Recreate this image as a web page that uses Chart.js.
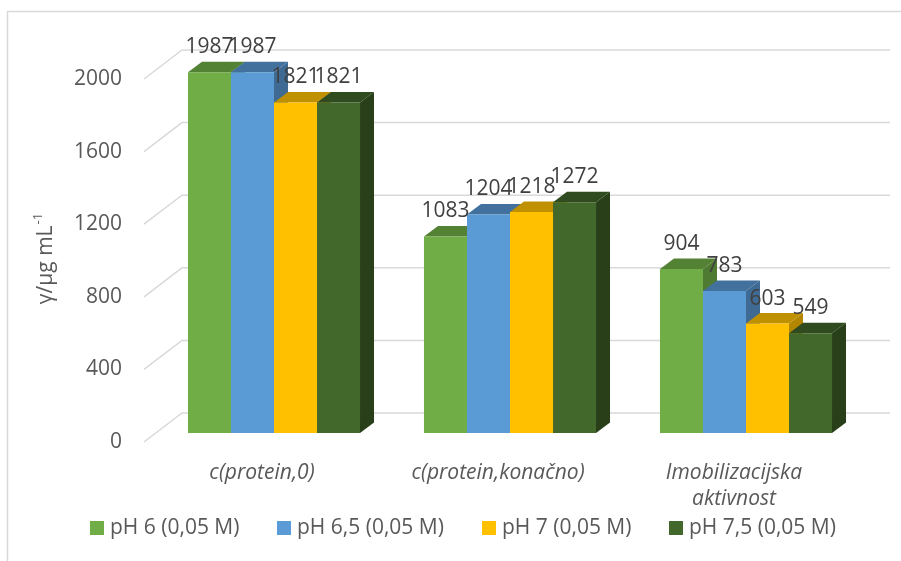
<!DOCTYPE html>
<html>
<head>
<meta charset="utf-8">
<script src="https://cdn.jsdelivr.net/npm/chart.js@4"></script>
<style>
  html, body { margin: 0; padding: 0; background: #fff; }
  #wrap { width: 901px; height: 561px; position: relative; }
</style>
</head>
<body>
<div id="wrap"><canvas id="proteinChart"></canvas></div>
<script>
// data
const categories = [["c(protein,0)"], ["c(protein,konačno)"], ["Imobilizacijska", "aktivnost"]];
const seriesNames = ["pH 6 (0,05 M)", "pH 6,5 (0,05 M)", "pH 7 (0,05 M)", "pH 7,5 (0,05 M)"];
const ph6 = [1987, 1083, 904];
const ph65 = [1987, 1204, 783];
const ph7 = [1821, 1218, 603];
const ph75 = [1821, 1272, 549];
const yTicks = [0, 400, 800, 1200, 1600, 2000];

const frontColors = ["#70AD47", "#5B9BD5", "#FFC000", "#43682B"];
const topColors = ["#548235", "#41719C", "#BF9000", "#2F4B1F"];
const sideColors = ["#4E7A32", "#3E6A94", "#B38600", "#283F1A"];

const FONT = "'Open Sans', sans-serif";
const DEPTH_X = 14, DEPTH_Y = -10.5;   // bar depth
const WALL_X = 26, WALL_Y = -20;       // back wall offset from bar plane
const EDGE_X = -12, EDGE_Y = 9;        // front floor edge offset

const threeD = {
    id: "threeD",
    beforeDatasetsDraw(chart) {
        const ctx = chart.ctx;
        const y = chart.scales.y;
        const area = chart.chartArea;
        ctx.save();
        // back wall grid + diagonals to the front edge
        ctx.strokeStyle = "#d9d9d9";
        ctx.lineWidth = 1.5;
        yTicks.forEach(v => {
            const py = y.getPixelForValue(v);
            ctx.beginPath();
            ctx.moveTo(area.left + EDGE_X, py + EDGE_Y);
            ctx.lineTo(area.left + WALL_X, py + WALL_Y);
            ctx.lineTo(area.right + WALL_X, py + WALL_Y);
            ctx.stroke();
        });
        // side faces then top faces
        const metas = chart.data.datasets.map((d, i) => chart.getDatasetMeta(i));
        metas.forEach((meta, di) => {
            meta.data.forEach(bar => {
                const p = bar.getProps(["x", "y", "base", "width"], true);
                const r = p.x + p.width / 2;
                ctx.fillStyle = sideColors[di];
                ctx.beginPath();
                ctx.moveTo(r, p.y);
                ctx.lineTo(r + DEPTH_X, p.y + DEPTH_Y);
                ctx.lineTo(r + DEPTH_X, p.base + DEPTH_Y);
                ctx.lineTo(r, p.base);
                ctx.closePath();
                ctx.fill();
            });
        });
        metas.forEach((meta, di) => {
            meta.data.forEach(bar => {
                const p = bar.getProps(["x", "y", "base", "width"], true);
                const l = p.x - p.width / 2, r = p.x + p.width / 2;
                ctx.fillStyle = topColors[di];
                ctx.beginPath();
                ctx.moveTo(l, p.y);
                ctx.lineTo(r, p.y);
                ctx.lineTo(r + DEPTH_X, p.y + DEPTH_Y);
                ctx.lineTo(l + DEPTH_X, p.y + DEPTH_Y);
                ctx.closePath();
                ctx.fill();
            });
        });
        ctx.restore();
    },
    afterDatasetsDraw(chart) {
        const ctx = chart.ctx;
        ctx.save();
        ctx.font = "21px " + FONT;
        ctx.fillStyle = "#404040";
        ctx.textAlign = "center";
        ctx.textBaseline = "middle";
        chart.data.datasets.forEach((ds, di) => {
            chart.getDatasetMeta(di).data.forEach((bar, i) => {
                ctx.fillText(String(ds.data[i]), bar.x, bar.y - 25);
            });
        });
        ctx.restore();
    },
    afterDraw(chart) {
        const ctx = chart.ctx;
        const y = chart.scales.y, x = chart.scales.x;
        const area = chart.chartArea;
        ctx.save();
        // outer border (cut off at right and bottom like the reference)
        ctx.strokeStyle = "#d9d9d9";
        ctx.lineWidth = 1.5;
        ctx.beginPath();
        ctx.moveTo(7.5, 600);
        ctx.lineTo(7.5, 11.5);
        ctx.lineTo(920, 11.5);
        ctx.stroke();

        // y tick labels
        ctx.fillStyle = "#595959";
        ctx.font = "21px " + FONT;
        ctx.textAlign = "right";
        ctx.textBaseline = "middle";
        yTicks.forEach(v => {
            ctx.fillText(String(v), 122, y.getPixelForValue(v) + EDGE_Y);
        });

        // category labels
        ctx.font = "italic 21px " + FONT;
        ctx.textAlign = "center";
        categories.forEach((lines, i) => {
            const cx = x.getPixelForValue(i) + EDGE_X;
            lines.forEach((t, k) => ctx.fillText(t, cx, area.bottom + 40 + k * 26));
        });

        // axis title
        ctx.save();
        ctx.translate(46, 259);
        ctx.rotate(-Math.PI / 2);
        ctx.font = "21px " + FONT;
        const main = "γ/μg mL";
        const w1 = ctx.measureText(main).width;
        ctx.font = "13px " + FONT;
        const w2 = ctx.measureText("-1").width;
        const start = -(w1 + w2) / 2;
        ctx.textAlign = "left";
        ctx.font = "21px " + FONT;
        ctx.fillText(main, start, 0);
        ctx.font = "13px " + FONT;
        ctx.fillText("-1", start + w1 + 1, -8);
        ctx.restore();

        // legend
        const legendX = [90, 277, 482, 669];
        ctx.font = "21px " + FONT;
        ctx.textAlign = "left";
        seriesNames.forEach((name, i) => {
            ctx.fillStyle = frontColors[i];
            ctx.fillRect(legendX[i], 521, 14, 14);
            ctx.fillStyle = "#595959";
            ctx.fillText(name, legendX[i] + 20, 528);
        });
        ctx.restore();
    }
};

const ctx = document.getElementById("proteinChart").getContext("2d");
new Chart(ctx, {
    type: "bar",
    data: {
        labels: categories,
        datasets: [
            { label: seriesNames[0], data: ph6, backgroundColor: frontColors[0] },
            { label: seriesNames[1], data: ph65, backgroundColor: frontColors[1] },
            { label: seriesNames[2], data: ph7, backgroundColor: frontColors[2] },
            { label: seriesNames[3], data: ph75, backgroundColor: frontColors[3] }
        ]
    },
    options: {
        responsive: true,
        maintainAspectRatio: false,
        animation: false,
        layout: { padding: { left: 156, right: 37, top: 70, bottom: 128 } },
        datasets: { bar: { categoryPercentage: 0.729, barPercentage: 1 } },
        scales: {
            x: { display: false },
            y: { display: false, min: 0, max: 2000 }
        },
        plugins: {
            legend: { display: false },
            tooltip: { enabled: false }
        }
    },
    plugins: [threeD]
});
</script>
</body>
</html>
